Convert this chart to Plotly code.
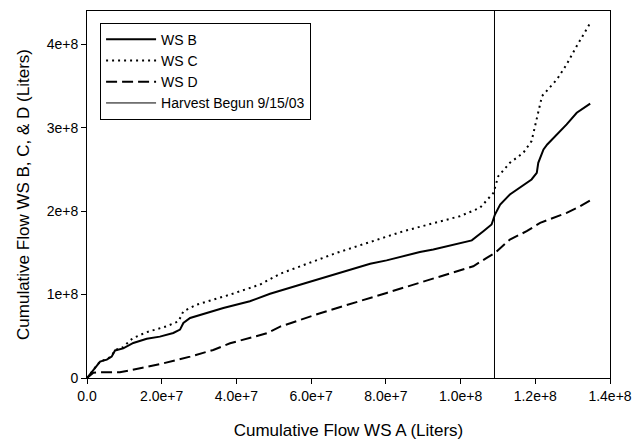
import plotly.graph_objects as go

# ---- data ----
ws_b_x = [0, 1.7e6, 3.5e6, 5.3e6, 6.6e6, 7.5e6, 9.7e6, 1.24e7, 1.6e7, 1.95e7, 2.31e7, 2.49e7,
          2.58e7, 2.76e7, 3.11e7, 3.65e7, 4.36e7, 4.9e7, 5.79e7, 6.24e7, 7.58e7, 8.02e7, 8.91e7,
          9.27e7, 9.98e7, 1.03e8, 1.061e8, 1.083e8, 1.092e8, 1.106e8, 1.132e8, 1.159e8, 1.19e8,
          1.204e8, 1.208e8, 1.222e8, 1.232e8, 1.284e8, 1.311e8, 1.347e8]
ws_b_y = [0, 9.6e6, 1.96e7, 2.2e7, 2.56e7, 3.3e7, 3.55e7, 4.2e7, 4.7e7, 4.96e7, 5.4e7, 5.8e7,
          6.6e7, 7.2e7, 7.7e7, 8.4e7, 9.2e7, 1.01e8, 1.13e8, 1.19e8, 1.37e8, 1.41e8, 1.51e8,
          1.54e8, 1.61e8, 1.65e8, 1.76e8, 1.84e8, 1.96e8, 2.08e8, 2.2e8, 2.28e8, 2.38e8,
          2.46e8, 2.58e8, 2.74e8, 2.8e8, 3.04e8, 3.18e8, 3.29e8]

ws_c_x = [0, 1.7e6, 3.5e6, 5.3e6, 6.6e6, 7.5e6, 9.7e6, 1.15e7, 1.24e7, 1.6e7, 2.13e7, 2.45e7,
          2.58e7, 2.94e7, 3.83e7, 4.63e7, 5.17e7, 6.68e7, 8.47e7, 9.98e7, 1.052e8, 1.088e8,
          1.101e8, 1.132e8, 1.168e8, 1.19e8, 1.204e8, 1.218e8, 1.258e8, 1.284e8, 1.311e8, 1.345e8]
ws_c_y = [0, 1.0e7, 2.0e7, 2.25e7, 2.65e7, 3.35e7, 3.7e7, 4.5e7, 4.8e7, 5.5e7, 6.2e7, 6.8e7,
          8.0e7, 8.8e7, 1.0e8, 1.12e8, 1.25e8, 1.5e8, 1.76e8, 1.94e8, 2.04e8, 2.22e8,
          2.42e8, 2.58e8, 2.7e8, 2.84e8, 3.1e8, 3.38e8, 3.58e8, 3.76e8, 3.98e8, 4.24e8]

ws_d_x = [0, 1.7e6, 3.5e6, 8.8e6, 1.42e7, 2.04e7, 2.76e7, 3.38e7, 3.83e7, 4.36e7, 4.81e7, 5.17e7,
          6.24e7, 8.02e7, 9.63e7, 1.034e8, 1.07e8, 1.092e8, 1.132e8, 1.177e8, 1.213e8, 1.258e8,
          1.284e8, 1.32e8, 1.347e8]
ws_d_y = [0, 6.4e6, 6.8e6, 6.8e6, 1.16e7, 1.76e7, 2.56e7, 3.36e7, 4.16e7, 4.76e7, 5.36e7, 6.16e7,
          7.77e7, 1.02e8, 1.24e8, 1.34e8, 1.44e8, 1.5e8, 1.66e8, 1.76e8, 1.86e8, 1.94e8,
          1.98e8, 2.06e8, 2.13e8]

harvest_x = 1.0908e8
series_names = ["WS B", "WS C", "WS D", "Harvest Begun 9/15/03"]

x_tickvals = [0, 2e7, 4e7, 6e7, 8e7, 1e8, 1.2e8, 1.4e8]
x_ticktext = ["0.0", "2.0e+7", "4.0e+7", "6.0e+7", "8.0e+7", "1.0e+8", "1.2e+8", "1.4e+8"]
y_tickvals = [0, 1e8, 2e8, 3e8, 4e8]
y_ticktext = ["0", "1e+8", "2e+8", "3e+8", "4e+8"]

x_range = [0, 1.4e8]
y_range = [0, 4.4e8]

FONT = "Liberation Sans, Arial, sans-serif"

fig = go.Figure()
fig.add_trace(go.Scatter(x=ws_b_x, y=ws_b_y, mode="lines", name=series_names[0],
                         line=dict(color="black", width=2)))
fig.add_trace(go.Scatter(x=ws_c_x, y=ws_c_y, mode="lines", name=series_names[1],
                         line=dict(color="black", width=2, dash="2px,4px")))
fig.add_trace(go.Scatter(x=ws_d_x, y=ws_d_y, mode="lines", name=series_names[2],
                         line=dict(color="black", width=2, dash="11px,5px")))
fig.add_trace(go.Scatter(x=[harvest_x, harvest_x], y=y_range, mode="lines", name=series_names[3],
                         line=dict(color="black", width=1)))

axis_common = dict(showline=True, linecolor="black", linewidth=1, mirror=True,
                   ticks="outside", ticklen=5, tickcolor="black", showgrid=False,
                   zeroline=False, automargin=False,
                   tickfont=dict(size=14, color="black", family=FONT))

fig.update_layout(
    width=635, height=440,
    margin=dict(l=87, r=25, t=11, b=62),
    paper_bgcolor="white", plot_bgcolor="white",
    font=dict(family=FONT, color="black"),
    showlegend=True,
    legend=dict(x=0.025, y=0.968, xanchor="left", yanchor="top",
                bordercolor="black", borderwidth=1, bgcolor="white",
                font=dict(size=14, family=FONT), itemwidth=50,
                tracegroupgap=0),
    xaxis=dict(range=x_range, tickvals=x_tickvals, ticktext=x_ticktext,
               title=dict(text="Cumulative Flow WS A (Liters)", font=dict(size=17), standoff=22),
               **axis_common),
    yaxis=dict(range=y_range, tickvals=y_tickvals, ticktext=y_ticktext,
               title=dict(text="Cumulative Flow WS B, C, & D (Liters)", font=dict(size=17), standoff=12),
               **axis_common),
)

fig.write_html("out.html", config={"displayModeBar": False},
               post_script="document.body.style.margin='0';document.body.style.overflow='hidden';")
